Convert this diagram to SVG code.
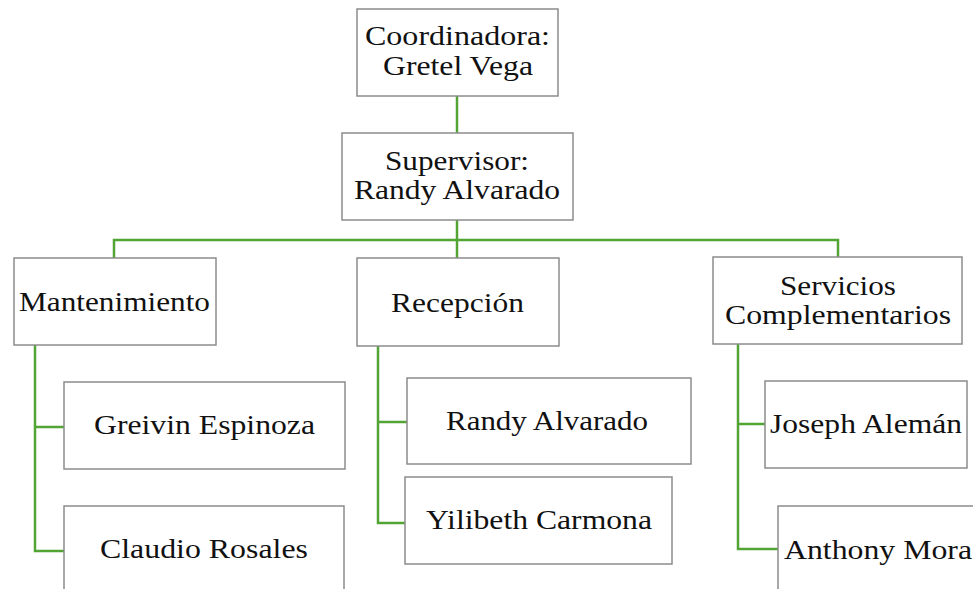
<svg xmlns="http://www.w3.org/2000/svg" width="973" height="589" viewBox="0 0 973 589">
<style>
.box{fill:#ffffff;stroke:#8c8c8c;stroke-width:1.5}
.t{font-family:"Liberation Serif","Times New Roman",serif;font-size:28px;fill:#111111}
.c{fill:none;stroke:#52a535;stroke-width:2.5}
</style>
<rect width="973" height="589" fill="#ffffff"/>
<g id="connectors">
<path class="c" d="M457 96V133"/>
<path class="c" d="M457 220V258"/>
<path class="c" d="M114 258V240H838V257"/>
<path class="c" d="M35 345V551H64M35 427H64"/>
<path class="c" d="M378 346V523H405M378 422H407"/>
<path class="c" d="M738 344V549H778M738 424H765"/>
</g>
<g id="coordinadora">
<rect class="box" x="357" y="9" width="201" height="87"/>
<text class="t" x="365" y="45" textLength="185" lengthAdjust="spacingAndGlyphs">Coordinadora:</text>
<text class="t" x="383" y="75" textLength="150" lengthAdjust="spacingAndGlyphs">Gretel Vega</text>
</g>
<g id="supervisor">
<rect class="box" x="342" y="133" width="231" height="87"/>
<text class="t" x="385" y="170" textLength="144" lengthAdjust="spacingAndGlyphs">Supervisor:</text>
<text class="t" x="354" y="199" textLength="206" lengthAdjust="spacingAndGlyphs">Randy Alvarado</text>
</g>
<g id="mantenimiento">
<rect class="box" x="14" y="258" width="202" height="87"/>
<text class="t" x="19" y="311" textLength="191" lengthAdjust="spacingAndGlyphs">Mantenimiento</text>
</g>
<g id="recepcion">
<rect class="box" x="357" y="258" width="202" height="88"/>
<text class="t" x="391" y="312" textLength="133" lengthAdjust="spacingAndGlyphs">Recepción</text>
</g>
<g id="servicios">
<rect class="box" x="713" y="257" width="249" height="87"/>
<text class="t" x="780" y="295" textLength="116" lengthAdjust="spacingAndGlyphs">Servicios</text>
<text class="t" x="725" y="324" textLength="226" lengthAdjust="spacingAndGlyphs">Complementarios</text>
</g>
<g id="greivin">
<rect class="box" x="64" y="382" width="281" height="87"/>
<text class="t" x="94" y="434" textLength="221" lengthAdjust="spacingAndGlyphs">Greivin Espinoza</text>
</g>
<g id="claudio">
<rect class="box" x="64" y="506" width="280" height="100"/>
<text class="t" x="100" y="558" textLength="208" lengthAdjust="spacingAndGlyphs">Claudio Rosales</text>
</g>
<g id="randy">
<rect class="box" x="407" y="378" width="284" height="86"/>
<text class="t" x="446" y="430" textLength="202" lengthAdjust="spacingAndGlyphs">Randy Alvarado</text>
</g>
<g id="yilibeth">
<rect class="box" x="405" y="477" width="267" height="87"/>
<text class="t" x="426" y="529" textLength="226" lengthAdjust="spacingAndGlyphs">Yilibeth Carmona</text>
</g>
<g id="joseph">
<rect class="box" x="765" y="381" width="202" height="87"/>
<text class="t" x="770" y="433" textLength="192" lengthAdjust="spacingAndGlyphs">Joseph Alemán</text>
</g>
<g id="anthony">
<rect class="box" x="778" y="506" width="220" height="100"/>
<text class="t" x="784" y="559" textLength="188" lengthAdjust="spacingAndGlyphs">Anthony Mora</text>
</g>
</svg>
